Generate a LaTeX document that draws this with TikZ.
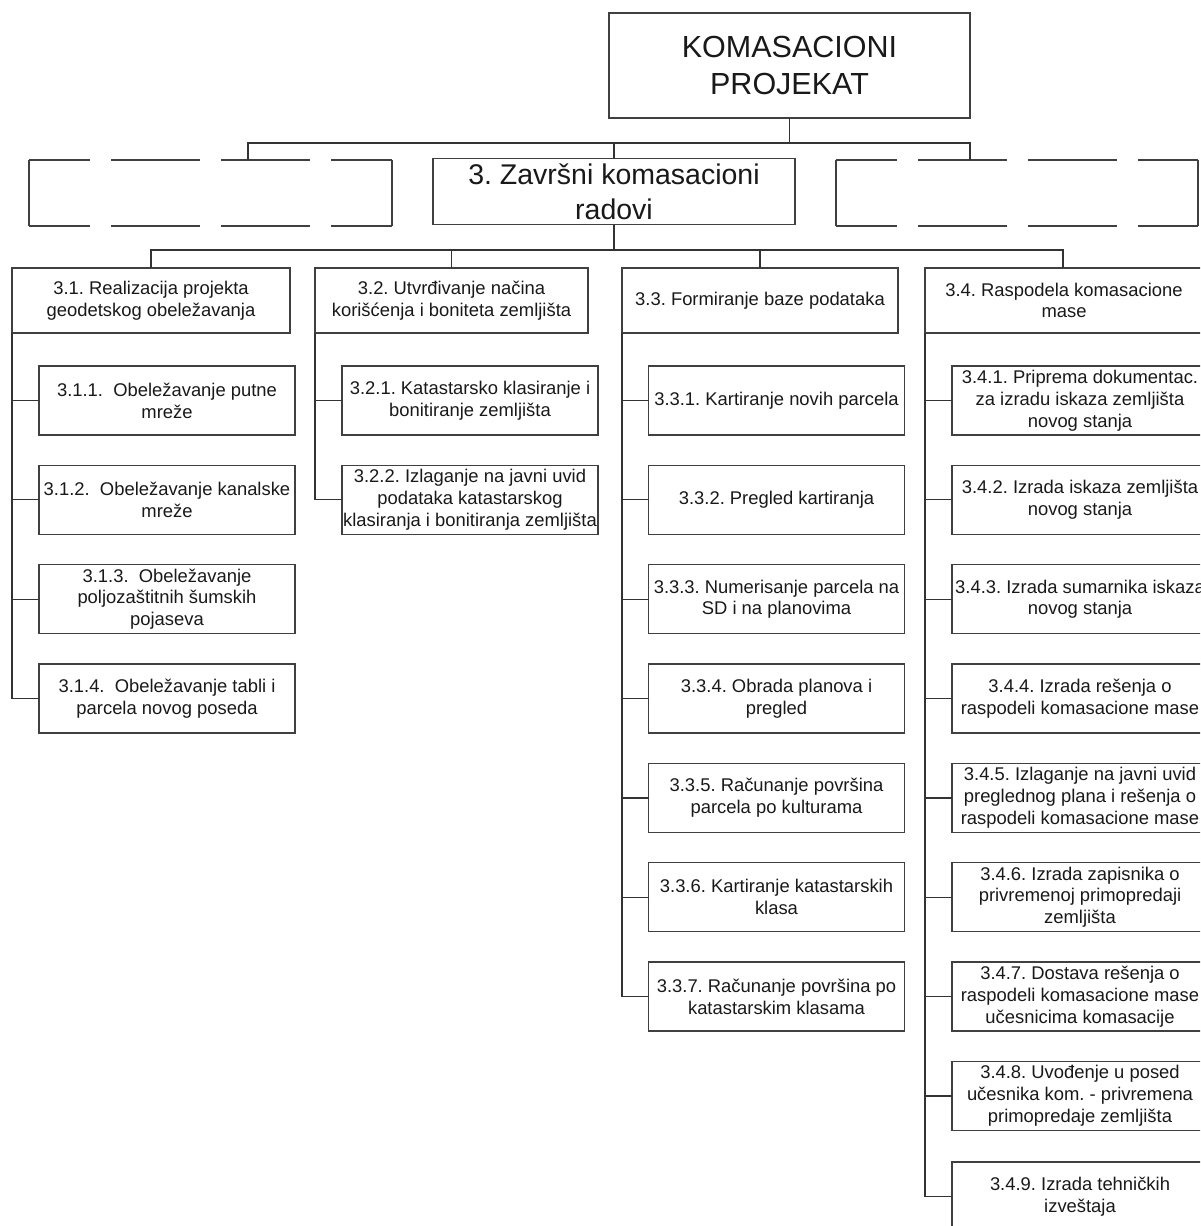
\documentclass[tikz,border=0pt]{standalone}
\usepackage{fontspec}
\setmainfont{Liberation Sans}
\frenchspacing
\begin{document}
\begin{tikzpicture}[x=1pt,y=-1pt,
  frame/.style={draw=black!75, line width=1.3pt, fill=white, align=center, inner sep=0pt, outer sep=0pt, text=black!90},
  sbox/.style={frame, minimum width=256pt, minimum height=69pt, font=\fontsize{18.4}{21.8}\selectfont},
  hbox/.style={frame, minimum height=65pt, font=\fontsize{18.4}{21.8}\selectfont},
  conn/.style={draw=black!80, line width=1.2pt},
  solidedge/.style={draw=black!75, line width=1.3pt},
  dashline/.style={draw=black!75, line width=1.3pt, dash pattern=on 89pt off 21pt, dash phase=28pt}]
\useasboundingbox (0,0) rectangle (1200,1226);
\clip (0,0) rectangle (1200,1226);
\fill[white] (0,0) rectangle (1200,1226);

% level 1
\node[frame, minimum width=361pt, minimum height=105pt, font=\fontsize{30.5}{36}\selectfont] (top) at (789.5,65.5) {KOMASACIONI\\PROJEKAT};

% level 2
\node[frame, minimum width=362pt, minimum height=66pt, font=\fontsize{28.5}{35}\selectfont] (mid) at (614,191.5) {3. Završni komasacioni\\radovi};
\node[minimum width=363pt, minimum height=66pt, inner sep=0pt, outer sep=0pt] (ld) at (210.5,193) {};
\node[minimum width=362pt, minimum height=66pt, inner sep=0pt, outer sep=0pt] (rd) at (1017,193) {};
\draw[dashline] (ld.north west) -- (ld.north east);
\draw[dashline] (ld.south west) -- (ld.south east);
\draw[solidedge] (ld.north west) -- (ld.south west);
\draw[solidedge] (ld.north east) -- (ld.south east);
\draw[dashline] (rd.north west) -- (rd.north east);
\draw[dashline] (rd.south west) -- (rd.south east);
\draw[solidedge] (rd.north west) -- (rd.south west);
\draw[solidedge] (rd.north east) -- (rd.south east);
\coordinate (ltap) at (248,160);
\coordinate (rtap) at (970,160);

% level 3
\node[hbox, minimum width=278pt] (p31) at (151,300.5) {3.1. Realizacija projekta\\geodetskog obeležavanja};
\node[hbox, minimum width=273pt] (p32) at (451.5,300.5) {3.2. Utvrđivanje načina\\korišćenja i boniteta zemljišta};
\node[hbox, minimum width=276pt] (p33) at (760,300.5) {3.3. Formiranje baze podataka};
\node[hbox, minimum width=278pt] (p34) at (1064,300.5) {3.4. Raspodela komasacione\\mase};

% column 3.1
\node[sbox] (c311) at (167,400.5) {3.1.1.~ Obeležavanje putne\\mreže};
\node[sbox] (c312) at (167,499.8) {3.1.2.~ Obeležavanje kanalske\\mreže};
\node[sbox] (c313) at (167,599.2) {3.1.3.~ Obeležavanje\\poljozaštitnih šumskih\\pojaseva};
\node[sbox] (c314) at (167,698.5) {3.1.4.~ Obeležavanje tabli i\\parcela novog poseda};

% column 3.2
\node[sbox] (c321) at (470,400.5) {3.2.1. Katastarsko klasiranje i\\bonitiranje zemljišta};
\node[sbox] (c322) at (470,499.8) {3.2.2. Izlaganje na javni uvid\\podataka katastarskog\\klasiranja i bonitiranja zemljišta};

% column 3.3
\node[sbox] (c331) at (776.5,400.5) {3.3.1. Kartiranje novih parcela};
\node[sbox] (c332) at (776.5,499.8) {3.3.2. Pregled kartiranja};
\node[sbox] (c333) at (776.5,599.2) {3.3.3. Numerisanje parcela na\\SD i na planovima};
\node[sbox] (c334) at (776.5,698.5) {3.3.4. Obrada planova i\\pregled};
\node[sbox] (c335) at (776.5,797.9) {3.3.5. Računanje površina\\parcela po kulturama};
\node[sbox] (c336) at (776.5,897.2) {3.3.6. Kartiranje katastarskih\\klasa};
\node[sbox] (c337) at (776.5,996.6) {3.3.7. Računanje površina po\\katastarskim klasama};

% column 3.4
\node[sbox] (c341) at (1080,400.5) {3.4.1. Priprema dokumentac.\\za izradu iskaza zemljišta\\novog stanja};
\node[sbox] (c342) at (1080,499.8) {3.4.2. Izrada iskaza zemljišta\\novog stanja};
\node[sbox] (c343) at (1080,599.2) {3.4.3. Izrada sumarnika iskaza\\novog stanja};
\node[sbox] (c344) at (1080,698.5) {3.4.4. Izrada rešenja o\\raspodeli komasacione mase};
\node[sbox] (c345) at (1080,797.9) {3.4.5. Izlaganje na javni uvid\\preglednog plana i rešenja o\\raspodeli komasacione mase};
\node[sbox] (c346) at (1080,897.2) {3.4.6. Izrada zapisnika o\\privremenoj primopredaji\\zemljišta};
\node[sbox] (c347) at (1080,996.6) {3.4.7. Dostava rešenja o\\raspodeli komasacione mase\\učesnicima komasacije};
\node[sbox] (c348) at (1080,1095.9) {3.4.8. Uvođenje u posed\\učesnika kom. - privremena\\primopredaje zemljišta};
\node[sbox] (c349) at (1080,1196.5) {3.4.9. Izrada tehničkih\\izveštaja};

% connectors level 1 -> 2
\draw[conn] (top.south) -- ++(0,25) -| (ltap);
\draw[conn] (top.south) -- ++(0,25) -| (mid.north);
\draw[conn] (top.south) -- ++(0,25) -| (rtap);

% connectors level 2 -> 3
\draw[conn] (mid.south) -- ++(0,25.5) -| (p31.north);
\draw[conn] (mid.south) -- ++(0,25.5) -| (p32.north);
\draw[conn] (mid.south) -- ++(0,25.5) -| (p33.north);
\draw[conn] (mid.south) -- ++(0,25.5) -| ([xshift=-1pt]p34.north);

% connectors level 3 -> 4
\foreach \c in {c311,c312,c313,c314} \draw[conn] (p31.south west) |- (\c.west);
\foreach \c in {c321,c322} \draw[conn] (p32.south west) |- (\c.west);
\foreach \c in {c331,c332,c333,c334,c335,c336,c337} \draw[conn] (p33.south west) |- (\c.west);
\foreach \c in {c341,c342,c343,c344,c345,c346,c347,c348,c349} \draw[conn] (p34.south west) |- (\c.west);
\end{tikzpicture}
\end{document}
